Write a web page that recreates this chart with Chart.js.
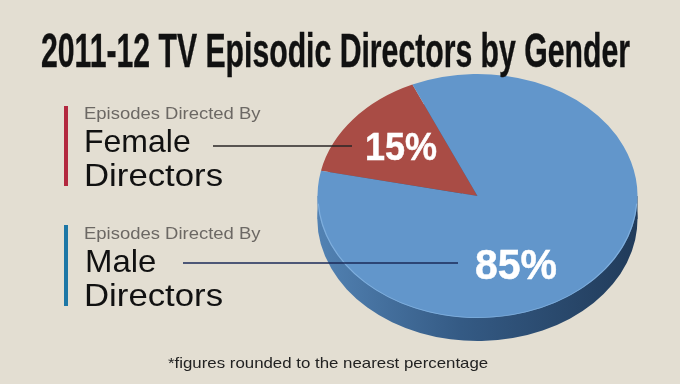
<!DOCTYPE html>
<html><head><meta charset="utf-8">
<script src="https://cdn.jsdelivr.net/npm/chart.js@4"></script>
<style>
html,body{margin:0;padding:0;background:#e3ded2;}
#wrap{position:relative;width:680px;height:384px;overflow:hidden;background:#e3ded2;}
#c{position:absolute;left:0;top:0;}
.t{position:absolute;white-space:nowrap;line-height:1;transform-origin:0 0;font-family:"Liberation Sans",Arial,sans-serif;}
.bar{position:absolute;width:4px;}
</style></head><body>
<div id="wrap"><canvas id="c" width="680" height="384"></canvas></div>
<script>
// ---- data ----
const categories = ['Female Directors', 'Male Directors'];
const shares = [15, 85];
const titleText = '2011-12 TV Episodic Directors by Gender';
const subLabel = 'Episodes Directed By';
const footnote = '*figures rounded to the nearest percentage';

// ---- styles ----
const sliceColors = ['#a94c45', '#6296cb'];
const sideStops = [
  ['#7a3a35', '#5a2824', '#4a201d'],
  ['#5282b3', '#345a84', '#213b5a']
];
const TILT = 122 / 160;
const DEPTH = 23;

const tiltPlugin = {
  id: 'tilt',
  beforeDatasetsDraw(chart) {
    const ctx = chart.ctx;
    const arcs = chart.getDatasetMeta(0).data;
    const x = arcs[0].x, y = arcs[0].y, r = arcs[0].outerRadius;
    ctx.save();
    ctx.translate(x, y); ctx.scale(1, TILT); ctx.translate(-x, -y);
    const d = DEPTH / TILT;
    arcs.forEach((a, i) => {
      const g = ctx.createLinearGradient(x - r, 0, x + r, 0);
      g.addColorStop(0, sideStops[i][0]);
      g.addColorStop(0.45, sideStops[i][1]);
      g.addColorStop(1, sideStops[i][2]);
      ctx.fillStyle = g;
      ctx.beginPath();
      ctx.moveTo(a.x, a.y + d);
      ctx.arc(a.x, a.y + d, a.outerRadius, a.startAngle, a.endAngle);
      ctx.closePath();
      ctx.fill();
      if (i === arcs.length - 1) {
        ctx.fillRect(x - r, y, 2 * r, d);
      }
    });
  },
  afterDatasetsDraw(chart) {
    const ctx = chart.ctx;
    const a = chart.getDatasetMeta(0).data[0];
    ctx.beginPath();
    ctx.arc(a.x, a.y, a.outerRadius - 0.5, 0.02 * Math.PI, 0.98 * Math.PI);
    ctx.strokeStyle = 'rgba(140,185,230,0.7)';
    ctx.lineWidth = 1.2;
    ctx.stroke();
    ctx.restore();
  },
  afterDraw(chart) {
    const ctx = chart.ctx;
    ctx.save();
    ctx.lineWidth = 1.5;
    ctx.strokeStyle = '#2a2626';
    ctx.beginPath(); ctx.moveTo(213, 146); ctx.lineTo(352, 146); ctx.stroke();
    ctx.strokeStyle = '#1b2a58';
    ctx.beginPath(); ctx.moveTo(183, 263); ctx.lineTo(458, 263); ctx.stroke();
    ctx.restore();
  }
};

const chart = new Chart(document.getElementById('c'), {
  type: 'pie',
  data: {
    labels: categories,
    datasets: [{ data: shares, backgroundColor: sliceColors, borderWidth: 0, hoverOffset: 0 }]
  },
  options: {
    responsive: false,
    animation: false,
    events: [],
    rotation: -78,
    layout: { padding: { left: 317.5, right: 42.5, top: 36, bottom: 28 } },
    plugins: { legend: { display: false }, tooltip: { enabled: false } }
  },
  plugins: [tiltPlugin]
});

// ---- text ----
const wrap = document.getElementById('wrap');
function place(text, o) {
  const el = document.createElement('div');
  el.className = 't';
  el.textContent = text;
  el.style.fontSize = o.size + 'px';
  el.style.fontWeight = o.weight || 'normal';
  el.style.color = o.color;
  if (o.family) el.style.fontFamily = o.family;
  if (o.stroke) el.style.webkitTextStroke = o.stroke;
  el.style.left = o.x + 'px';
  el.style.top = (o.baseline - 0.8465 * o.size) + 'px';
  wrap.appendChild(el);
  const w = el.offsetWidth;
  if (o.width) el.style.transform = 'scaleX(' + (o.width / w) + ')';
  return el;
}
function bar(x, y0, y1, color) {
  const b = document.createElement('div');
  b.className = 'bar';
  b.style.left = x + 'px'; b.style.top = y0 + 'px';
  b.style.height = (y1 - y0) + 'px'; b.style.background = color;
  wrap.appendChild(b);
}

place(titleText, { x: 41, baseline: 67, size: 49, weight: 'bold', color: '#111', width: 589, stroke: '0.4px #111' });

bar(64, 106, 186, '#b3283f');
place(subLabel, { x: 84, baseline: 119, size: 17, color: '#6c6864', width: 177 });
place(categories[0].split(' ')[0], { x: 84, baseline: 152, size: 32, color: '#111', width: 107 });
place(categories[0].split(' ')[1], { x: 84, baseline: 186, size: 32, color: '#111', width: 139 });

bar(64, 225, 306, '#1d77a6');
place(subLabel, { x: 84, baseline: 239, size: 17, color: '#6c6864', width: 177 });
place(categories[1].split(' ')[0], { x: 85, baseline: 272, size: 32, color: '#111', width: 71 });
place(categories[1].split(' ')[1], { x: 84, baseline: 306, size: 32, color: '#111', width: 139 });

place(shares[0] + '%', { x: 365, baseline: 160, size: 39, weight: 'bold', color: '#fff', width: 72, stroke: '0.5px #fff' });
place(shares[1] + '%', { x: 475, baseline: 279, size: 43, weight: 'bold', color: '#fff', width: 82, stroke: '0.5px #fff' });

place(footnote, { x: 168, baseline: 368, size: 15, color: '#222', width: 320 });
</script>
</body></html>
